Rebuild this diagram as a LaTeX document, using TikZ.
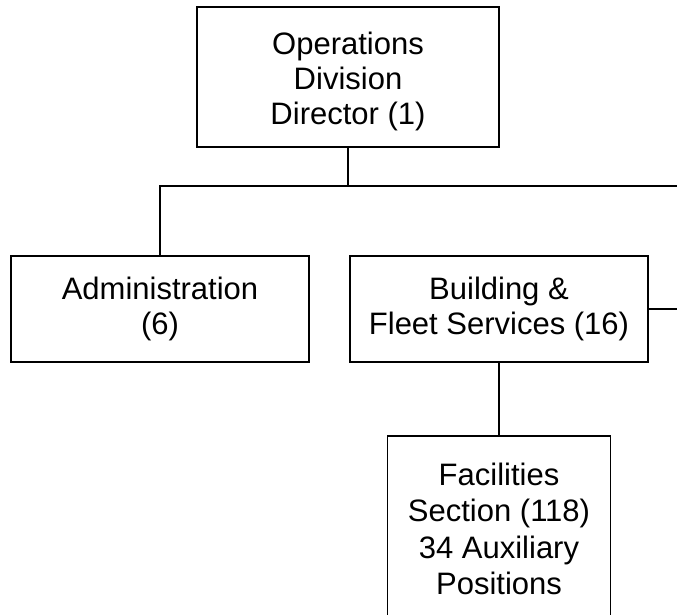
\documentclass[tikz,border=0pt]{standalone}
\usepackage{fontspec}
\setmainfont{Liberation Sans}
\begin{document}
\begin{tikzpicture}[x=1pt,y=-1pt,
  box/.style={draw,line width=1.8pt,inner sep=0pt,align=center,
    font=\fontsize{31}{35}\selectfont},
  link/.style={line width=1.8pt}]
\useasboundingbox (0,0) rectangle (677,615);
\node[box,minimum width=302pt,minimum height=140pt] (top) at (348,77) {\rule{0pt}{31pt}Operations\\Division\\Director (1)};
\node[box,minimum width=298pt,minimum height=106pt] (admin) at (160,309) {Administration\\(6)};
\node[box,minimum width=298pt,minimum height=106pt] (bfs) at (499,309) {Building \&\\Fleet Services (16)};
\node[box,minimum width=223pt,minimum height=186pt,font=\fontsize{31}{36.5}\selectfont] (fac) at (499,529) {Facilities\\Section (118)\\34 Auxiliary\\Positions};
\coordinate (busR) at (677,186);
\coordinate (bfsR) at (677,309);
\draw[link] (top.south) -- (top.south |- busR);
\draw[link] (admin.north) |- (busR);
\draw[link] (bfs.east) -- (bfsR);
\draw[link] (bfs.south) -- (fac.north);
\end{tikzpicture}
\end{document}
